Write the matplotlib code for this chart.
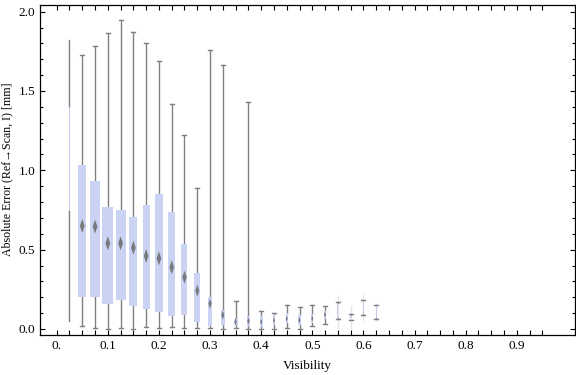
import matplotlib.pyplot as plt
import numpy as np

plt.rcParams['font.family'] = ['Liberation Serif', 'DejaVu Serif']

# binned visibility vs. absolute error
visibility = [0.025, 0.05, 0.075, 0.1, 0.125, 0.15, 0.175, 0.2, 0.225, 0.25,
              0.275, 0.3, 0.325, 0.35, 0.375, 0.4, 0.425, 0.45, 0.475, 0.5,
              0.525, 0.55, 0.575, 0.6, 0.625]
whisker_lo = [0.05, 0.019, 0.004, 0.0, 0.004, 0.0, 0.013, 0.006, 0.013, 0.006,
              0.006, 0.004, 0.0, 0.004, 0.0, 0.0, 0.0, 0.004, 0.0, 0.019,
              0.03, 0.061, 0.055, 0.086, 0.065]
q1 = [0.745, 0.204, 0.204, 0.158, 0.185, 0.147, 0.124, 0.105, 0.082, 0.09,
      0.046, 0.021, 0.025, 0.025, 0.019, 0.01, 0.025, 0.04, 0.025, 0.036,
      0.061, 0.068, 0.058, 0.092, 0.07]
median = [1.07, 0.649, 0.645, 0.54, 0.54, 0.512, 0.46, 0.445, 0.389, 0.326,
          0.241, 0.16, 0.088, 0.045, 0.05, 0.045, 0.055, 0.065, 0.055, 0.065,
          0.09, 0.11, 0.075, 0.13, 0.11]
q3 = [1.40, 1.033, 0.933, 0.769, 0.75, 0.704, 0.781, 0.851, 0.737, 0.536,
      0.351, 0.204, 0.12, 0.063, 0.084, 0.084, 0.09, 0.099, 0.09, 0.095,
      0.115, 0.162, 0.09, 0.178, 0.146]
whisker_hi = [1.82, 1.727, 1.783, 1.863, 1.947, 1.87, 1.80, 1.687, 1.416, 1.22,
              0.888, 1.758, 1.664, 0.178, 1.43, 0.113, 0.099, 0.151, 0.137, 0.151,
              0.145, 0.168, 0.095, 0.183, 0.151]
# faint outer ranges on the last bins
tail_vis = [0.55, 0.575, 0.6, 0.625]
tail_lo = [0.0, 0.0, 0.05, 0.052]
tail_hi = [0.214, 0.151, 0.225, 0.166]

# styling per box (pixel sizes)
box_px = [1.3, 8, 9.3, 10.7, 10, 8, 7.3, 7.7, 7.3, 6, 6.3, 4, 4, 4, 3.3,
          2.7, 2.3, 2.3, 2.3, 2.3, 2.3, 1.2, 1.2, 1.2, 1.2]
diamond_px = [0, 14, 14, 14, 14, 14, 14, 14, 14, 13, 12, 10, 9, 7, 7,
              6, 6, 6, 6, 6, 6, 0, 0, 0, 0]

fig = plt.figure(figsize=(5.76, 3.75), dpi=100)
ax = fig.add_axes([40 / 576, 1 - 335 / 375, 535 / 576, 330.5 / 375])
ax.set_xlim(-0.0327, 1.014)
ax.set_ylim(-0.038, 2.045)

px = 1.0 / 511  # data units per pixel along x
stats = []
for i in range(len(visibility)):
    stats.append(dict(whislo=whisker_lo[i], q1=q1[i], med=median[i],
                      q3=q3[i], whishi=whisker_hi[i], fliers=[]))

caps = [0.0] + [4 * px] * (len(visibility) - 1)
bp = ax.bxp(stats, positions=visibility, widths=[w * px for w in box_px],
            capwidths=caps, patch_artist=True, manage_ticks=False,
            boxprops=dict(facecolor='#cbd3f5', edgecolor='none', linewidth=0),
            whiskerprops=dict(color='#808080', linewidth=1.0),
            capprops=dict(color='#808080', linewidth=1.0),
            medianprops=dict(linewidth=0))
for b in bp['boxes']:
    b.set_zorder(3)
for i, b in enumerate(bp['boxes']):
    if box_px[i] < 2:
        b.set_facecolor('#c6ccee')

ax.vlines(tail_vis, tail_lo, tail_hi, color='#808080', alpha=0.18,
          linewidth=1.0, zorder=2)

diamond = [(0, 1), (0.34, 0), (0, -1), (-0.34, 0), (0, 1)]
sizes = [(d * 0.72) ** 2 for d in diamond_px]
ax.scatter(visibility, median, s=sizes, marker=diamond, color='#707070',
           alpha=0.9, linewidths=0, zorder=4)

# ticks
ax.set_xticks(np.arange(0, 0.95, 0.1))
ax.set_xticklabels(['0.'] + ['%.1f' % v for v in np.arange(0.1, 0.95, 0.1)])
ax.set_xticks(np.arange(0, 0.951, 0.025), minor=True)
ax.set_yticks(np.arange(0, 2.01, 0.5))
ax.set_yticks(np.arange(0, 2.01, 0.1), minor=True)
ax.tick_params(axis='x', which='both', direction='in', top=True,
               length=3.3, width=0.8, pad=3.5, labelsize=9.5)
ax.tick_params(axis='y', which='major', direction='in', right=True,
               length=3.8, width=0.8, pad=3.5, labelsize=9.5)
ax.tick_params(axis='y', which='minor', direction='in', right=True,
               length=2.2, width=0.8)
for s in ax.spines.values():
    s.set_linewidth(0.9)

ax.set_xlabel('Visibility', fontsize=9.5, labelpad=6)
ax.set_ylabel('Absolute Error (Ref\u2192Scan, I) [mm]', fontsize=8.6, labelpad=4)

plt.savefig('out.png', dpi=100)
